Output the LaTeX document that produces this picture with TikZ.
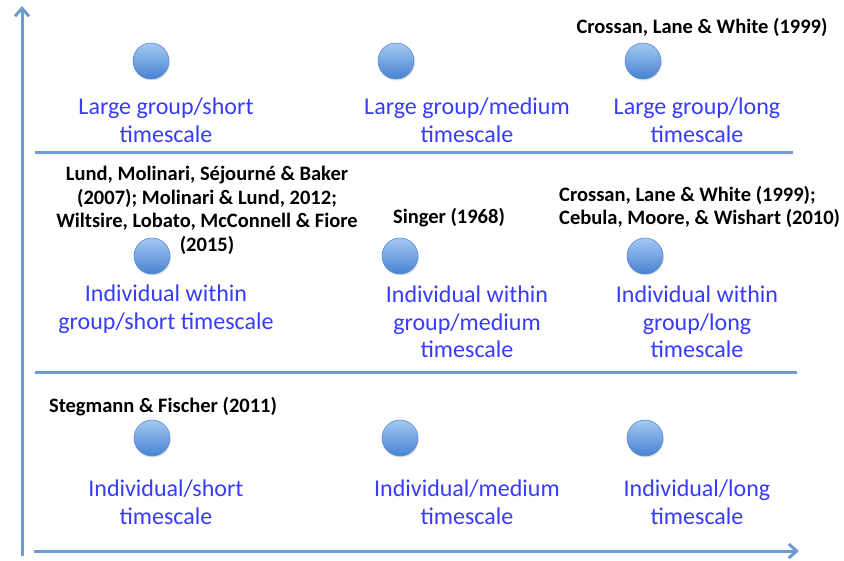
\documentclass[tikz,border=0pt]{standalone}
\usepackage{fontspec}
\setmainfont{Carlito}
\usetikzlibrary{arrows.meta,shadows}
\definecolor{axisblue}{RGB}{110,155,210}
\definecolor{labelblue}{RGB}{55,60,250}
\definecolor{dottop}{RGB}{165,200,242}
\definecolor{dotbot}{RGB}{70,130,210}
\definecolor{dotedge}{RGB}{90,140,205}
\tikzset{
  axisline/.style={draw=axisblue,line width=3pt},
  sepline/.style={draw=axisblue,line width=3pt},
  dot/.style={circle,minimum size=36pt,inner sep=0pt,top color=dottop,bottom color=dotbot,draw=dotedge,line width=0.6pt,
    drop shadow={shadow xshift=0.8pt,shadow yshift=-1.5pt,opacity=0.25}},
  lab/.style={text=labelblue,font=\fontsize{24}{27.5}\selectfont,align=center,inner sep=0pt},
  cite/.style={text=black,font=\bfseries\fontsize{20.5}{23.7}\selectfont,align=center,inner sep=0pt},
}
\begin{document}
\begin{tikzpicture}[x=1pt,y=-1pt]
\useasboundingbox (0,0) rectangle (844,561);
% axes
\coordinate (o1) at (22,556);
\coordinate (ytop) at (22,6);
\coordinate (o2) at (34,551);
\coordinate (xend) at (799,551);
\draw[axisline,-{Straight Barb[length=8pt,width=14pt]}] (o1) -- (ytop);
\draw[axisline,-{Straight Barb[length=8pt,width=14pt]}] (o2) -- (xend);
% separators
\coordinate (s1a) at (35,153); \coordinate (s1b) at (793,153);
\coordinate (s2a) at (35,373); \coordinate (s2b) at (797,373);
\draw[sepline] (s1a) -- (s1b);
\draw[sepline] (s2a) -- (s2b);
% dots
\node[dot] (d11) at (151,61) {};
\node[dot] (d12) at (396,61) {};
\node[dot] (d13) at (643,61) {};
\node[dot] (d21) at (152,256) {};
\node[dot] (d22) at (400,256) {};
\node[dot] (d23) at (645,256) {};
\node[dot] (d31) at (152,438) {};
\node[dot] (d32) at (400,438) {};
\node[dot] (d33) at (645,438) {};
% labels
\node[lab] (l11) at (166,120.5) {Large group/short\\timescale};
\node[lab] (l12) at (467,120.5) {Large group/medium\\timescale};
\node[lab] (l13) at (697,120.5) {Large group/long\\timescale};
\node[lab] (l21) at (166,309) {Individual within\\group/short timescale};
\node[lab] (l22) at (467,322) {Individual within\\group/medium\\timescale};
\node[lab] (l23) at (697,322) {Individual within\\group/long\\timescale};
\node[lab] (l31) at (166,502.5) {Individual/short\\timescale};
\node[lab] (l32) at (467,502.5) {Individual/medium\\timescale};
\node[lab] (l33) at (697,502.5) {Individual/long\\timescale};
% citations
\node[cite] (c13) at (702,27) {Crossan, Lane \& White (1999)};
\node[cite] (c21) at (207,210.5) {Lund, Molinari, Séjourné \& Baker\\(2007); Molinari \& Lund, 2012;\\Wiltsire, Lobato, McConnell \& Fiore\\(2015)};
\node[cite] (c22) at (449,218) {Singer (1968)};
\node[cite,align=left,anchor=west] (c23) at (559,207) {Crossan, Lane \& White (1999);\\Cebula, Moore, \& Wishart (2010)};
\node[cite] (c31) at (163,407) {Stegmann \& Fischer (2011)};
\end{tikzpicture}
\end{document}
